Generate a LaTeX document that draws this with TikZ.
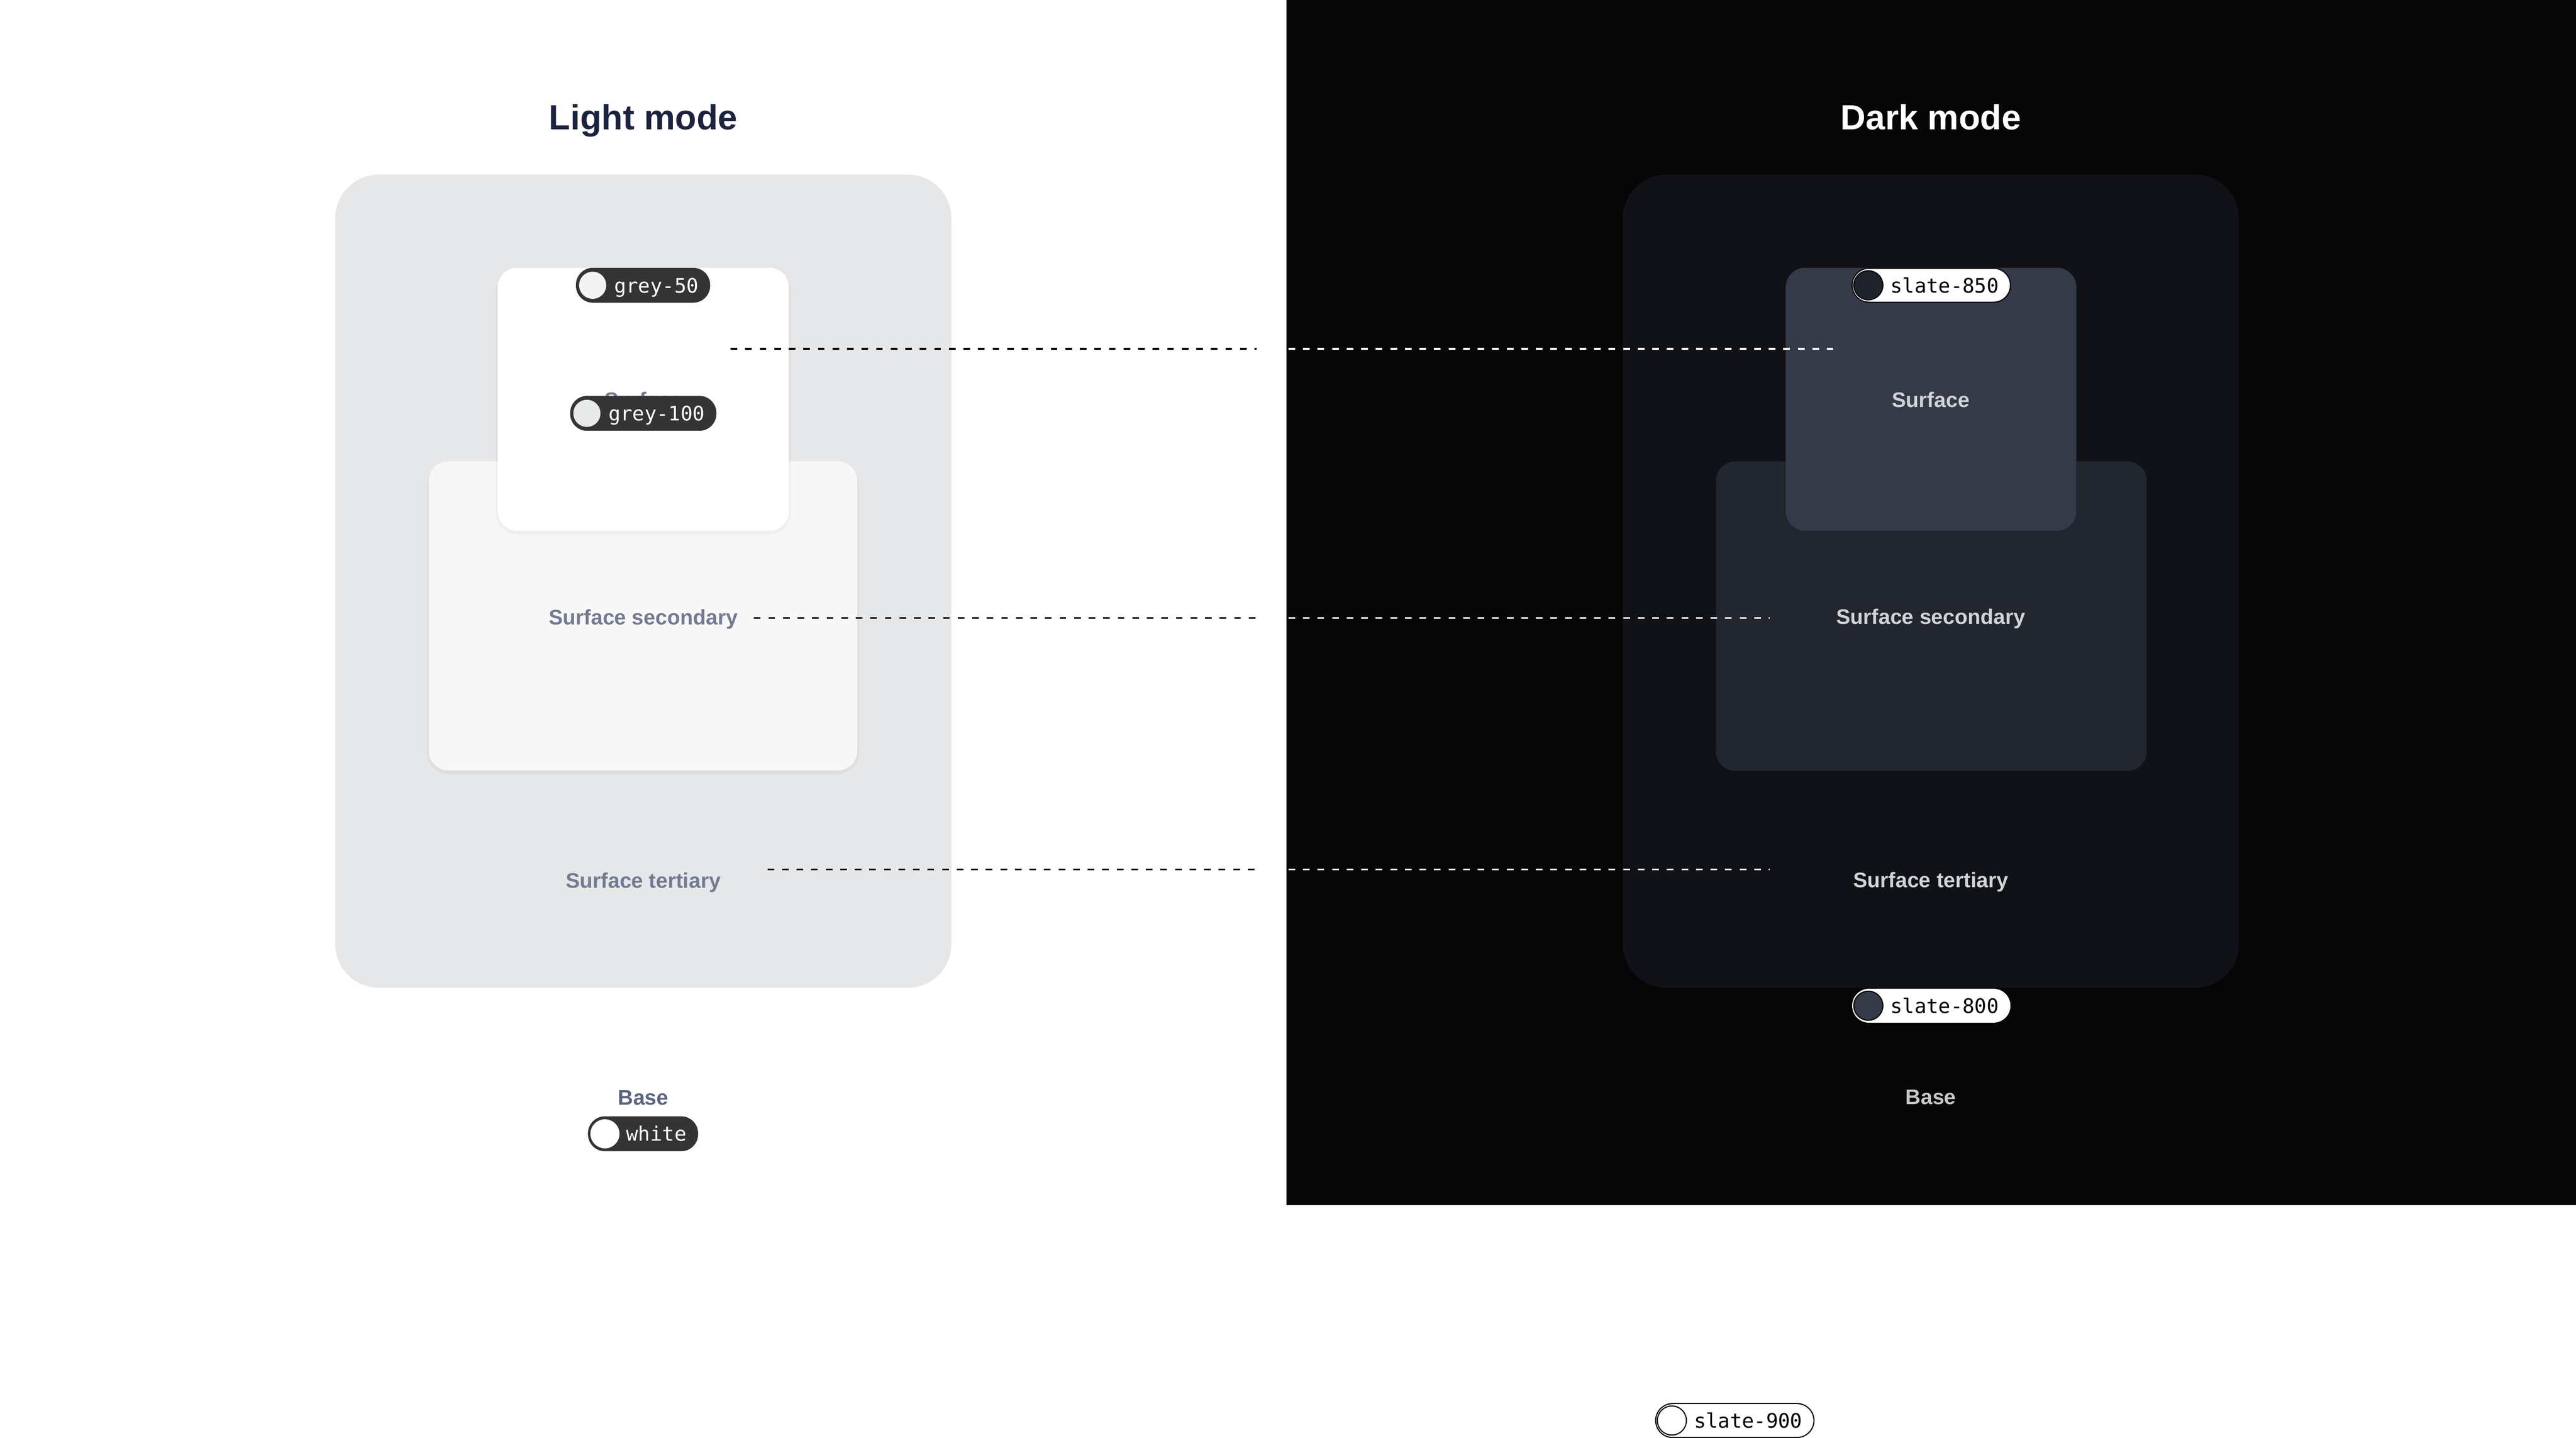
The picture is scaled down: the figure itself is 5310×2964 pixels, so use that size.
\documentclass[tikz,border=0pt]{standalone}
\usepackage{fontspec}
\setmainfont{Liberation Sans}
\newfontfamily\pillfont{DejaVu Sans Mono}
\definecolor{darkbg}{HTML}{060606}
\definecolor{lightpanel}{HTML}{E6E7E9}
\definecolor{lightsec}{HTML}{F7F7F7}
\definecolor{darkpanel}{HTML}{111217}
\definecolor{darksec}{HTML}{22262F}
\definecolor{darksurf}{HTML}{343A48}
\definecolor{pillgrey}{HTML}{343434}
\definecolor{navy}{HTML}{1C2340}
\definecolor{lblgrey}{HTML}{737A92}
\definecolor{basegrey}{HTML}{5B6282}
\definecolor{darklbl}{HTML}{D2D3D6}
\definecolor{darkbase}{HTML}{C8C8C8}
\definecolor{greyfifty}{HTML}{F3F3F3}
\definecolor{greyhundred}{HTML}{E8E9E9}
\definecolor{slateeightfifty}{HTML}{1F232C}
\definecolor{slateeight}{HTML}{343A48}
\begin{document}
\begin{tikzpicture}[x=0.2bp,y=-0.2bp,
  title/.style={anchor=base, inner sep=0pt, font=\fontsize{14.4bp}{17bp}\selectfont\bfseries},
  lbl/.style={anchor=base, inner sep=0pt, font=\fontsize{8.7bp}{10bp}\selectfont\bfseries},
  pill/.style={rounded corners=7bp, minimum height=14.4bp, inner xsep=4.8bp, inner ysep=0pt,
    text height=6.1bp, text depth=0pt, font=\pillfont\fontsize{8.24bp}{10bp}\selectfont},
  lightpill/.style={pill, fill=pillgrey, text=white},
  darkpill/.style={pill, minimum height=14bp, fill=white, draw=black, line width=0.45bp, text=black},
  dot/.style={circle, minimum size=11.2bp, inner sep=0pt},
  darkdot/.style={circle, minimum size=12bp, inner sep=0pt, draw=black, line width=0.45bp},
  conn/.style={dash pattern=on 2.74bp off 3.26bp, line width=0.66bp}
]
\useasboundingbox (0,0) rectangle (5310,2964);
% backgrounds
\fill[white] (0,0) rectangle (5310,2964);
\fill[darkbg] (2652,0) rectangle (5310,2484);

% ---------- light mode ----------
\fill[lightpanel, rounded corners=18bp] (691,360) rectangle (1961,2036);
\fill[black, opacity=0.03, rounded corners=9bp] (880,955) rectangle (1771,1596);
\fill[lightsec, rounded corners=8bp] (884,951) rectangle (1767,1588);
\fill[black, opacity=0.03, rounded corners=9bp] (1022,556) rectangle (1630,1102);
\fill[white, rounded corners=8bp] (1026,552) rectangle (1626,1094);

\node[title, text=navy] (ltitle) at (1326,267) {Light mode};
\node[lbl, text=lblgrey] (lsurf) at (1326,840) {Surface};
\node[lbl, text=lblgrey] (lsec) at (1326,1288) {Surface secondary};
\node[lbl, text=lblgrey] (lter) at (1326,1830) {Surface tertiary};
\node[lbl, text=basegrey] (lbase) at (1326,2277) {Base};

% ---------- dark mode ----------
\fill[darkpanel, rounded corners=18bp] (3345,360) rectangle (4615,2036);
\fill[darksec, rounded corners=8bp] (3537,951) rectangle (4425,1589);
\fill[darksurf, rounded corners=8bp] (3681,552) rectangle (4280,1094);

\node[title, text=white] (dtitle) at (3980,267) {Dark mode};
\node[lbl, text=darklbl] (dsurf) at (3980,840) {Surface};
\node[lbl, text=darklbl] (dsec) at (3980,1287) {Surface secondary};
\node[lbl, text=darklbl] (dter) at (3980,1829) {Surface tertiary};
\node[lbl, text=darkbase] (dbase) at (3980,2276) {Base};

% ---------- connectors ----------
\coordinate (la) at (1506,719);  \coordinate (lae) at (2590,719);
\coordinate (lb) at (1554,1274); \coordinate (lbe) at (2590,1274);
\coordinate (lc) at (1582,1792); \coordinate (lce) at (2590,1792);
\coordinate (da) at (2656,719);  \coordinate (dae) at (3779,719);
\coordinate (db) at (2656,1274); \coordinate (dbe) at (3648,1274);
\coordinate (dc) at (2656,1792); \coordinate (dce) at (3648,1792);
\draw[conn, black] (la) -- (lae);
\draw[conn, black] (lb) -- (lbe);
\draw[conn, black] (lc) -- (lce);
\draw[conn, white] (da) -- (dae);
\draw[conn, white] (db) -- (dbe);
\draw[conn, white] (dc) -- (dce);

% ---------- pills ----------
\node[lightpill] (pfifty) at (1325.5,588) {\hspace*{11bp}grey-50};
\node[dot, fill=greyfifty] (cfifty) at ([xshift=7.1bp]pfifty.west) {};
\node[lightpill] (phund) at (1326,852) {\hspace*{11bp}grey-100};
\node[dot, fill=greyhundred] (chund) at ([xshift=7.1bp]phund.west) {};
\node[lightpill] (pwhite) at (1325.5,2337) {\hspace*{11bp}white};
\node[dot, fill=white, minimum size=12bp] (cwhite) at ([xshift=7.2bp]pwhite.west) {};

\node[darkpill] (peightfifty) at (3981,588) {\hspace*{11bp}slate-850};
\node[darkdot, fill=slateeightfifty] (ceightfifty) at ([xshift=6.9bp]peightfifty.west) {};
\node[darkpill, draw=none] (peight) at (3981,2073) {\hspace*{11bp}slate-800};
\node[darkdot, fill=slateeight] (ceight) at ([xshift=6.9bp]peight.west) {};
\node[darkpill] (pnine) at (3576,2928) {\hspace*{11bp}slate-900};
\node[darkdot, fill=white] (cnine) at ([xshift=6.9bp]pnine.west) {};
\end{tikzpicture}
\end{document}
